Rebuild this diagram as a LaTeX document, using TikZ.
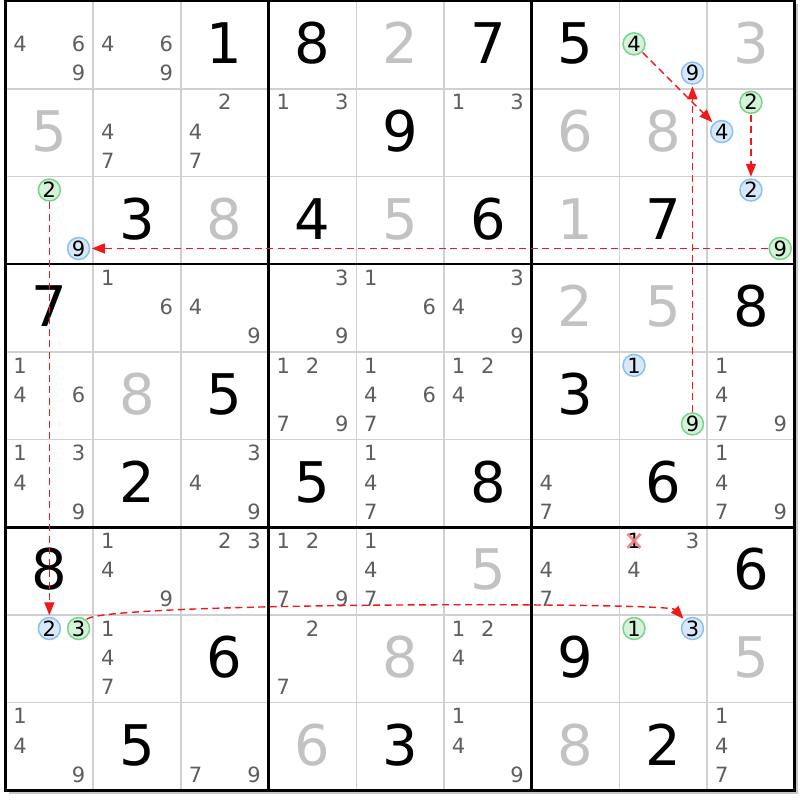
\documentclass[tikz,border=0pt]{standalone}
\usepackage{fontspec}
\setmainfont{DejaVu Sans}
\usetikzlibrary{arrows.meta}
\definecolor{thinline}{HTML}{D0D0D0}
\definecolor{solved}{HTML}{C2C2C2}
\definecolor{candc}{HTML}{5E5E5E}
\definecolor{gfill}{HTML}{D6F2D8}
\definecolor{gdraw}{HTML}{78D48A}
\definecolor{bfill}{HTML}{D8E8F8}
\definecolor{bdraw}{HTML}{88C2F2}
\definecolor{arrred}{HTML}{F01818}
\definecolor{xpink}{HTML}{F27A7A}
\def\gx{5.5}
\def\gy{1}
\def\cs{87.7}
\newcommand\candpos[3]{%
  \pgfmathsetmacro\px{\gx+(#2-1)*\cs+(mod(#3-1,3)+0.5)*\cs/3}%
  \pgfmathsetmacro\py{\gy+(#1-1)*\cs+(floor((#3-1)/3)+0.5)*\cs/3-1}%
}
\tikzset{
  bigdig/.style={font=\fontsize{56}{60}\selectfont, inner sep=0pt, text height=40.8pt, text depth=0pt},
  cand/.style={font=\fontsize{21}{24}\selectfont, text=candc, inner sep=0pt, text height=15.3pt, text depth=0pt},
  circd/.style={circle, line width=1.5pt, minimum size=22pt, inner sep=0pt, font=\fontsize{21}{24}\selectfont, text=black, text height=15.3pt, text depth=0pt},
  gcirc/.style={circd, draw=gdraw, fill=gfill},
  bcirc/.style={circd, draw=bdraw, fill=bfill},
  arr/.style={draw=arrred, line width=1.4pt, dash pattern=on 7pt off 4.5pt, -{Triangle[length=13pt,width=10pt]}, shorten >=1.5pt, shorten <=0.5pt},
}
\begin{document}
\begin{tikzpicture}[x=1pt,y=-1pt]
\useasboundingbox (0,0) rectangle (800,800);
\fill[white] (0,0) rectangle (800,800);
% shadow
\fill[black!22] ({\gx+3},{\gy+9*\cs}) rectangle ({\gx+9*\cs+3},{\gy+9*\cs+3.5});
\fill[black!22] ({\gx+9*\cs},{\gy+3}) rectangle ({\gx+9*\cs+3.5},{\gy+9*\cs+3.5});
% thin lines
\foreach \i in {1,2,4,5,7,8} {
  \draw[thinline, line width=1.6pt] ({\gx+\i*\cs},\gy) -- ({\gx+\i*\cs},{\gy+9*\cs});
  \draw[thinline, line width=1.6pt] (\gx,{\gy+\i*\cs}) -- ({\gx+9*\cs},{\gy+\i*\cs});
}
\foreach \i in {3,6} {
  \draw[black, line width=2.6pt] ({\gx+\i*\cs},\gy) -- ({\gx+\i*\cs},{\gy+9*\cs});
  \draw[black, line width=2.6pt] (\gx,{\gy+\i*\cs}) -- ({\gx+9*\cs},{\gy+\i*\cs});
}
\draw[black, line width=3pt] (\gx,\gy) rectangle ({\gx+9*\cs},{\gy+9*\cs});
% given digits
\foreach \r/\c/\d in {1/3/1,1/4/8,1/6/7,1/7/5,2/5/9,3/2/3,3/4/4,3/6/6,3/8/7,4/1/7,4/9/8,5/3/5,5/7/3,6/2/2,6/4/5,6/6/8,6/8/6,7/1/8,7/9/6,8/3/6,8/7/9,9/2/5,9/5/3,9/8/2} {
  \node[bigdig, text=black] (d\r\c) at ({\gx+(\c-0.5)*\cs},{\gy+(\r-0.5)*\cs-1.5}) {\d};
}
% solved digits
\foreach \r/\c/\d in {1/5/2,1/9/3,2/1/5,2/7/6,2/8/8,3/3/8,3/5/5,3/7/1,4/7/2,4/8/5,5/2/8,7/6/5,8/5/8,8/9/5,9/4/6,9/7/8} {
  \node[bigdig, text=solved] (d\r\c) at ({\gx+(\c-0.5)*\cs},{\gy+(\r-0.5)*\cs-1.5}) {\d};
}
% candidates
\foreach \r/\c/\ds in {1/1/{4,6,9},1/2/{4,6,9},2/2/{4,7},2/3/{2,4,7},2/4/{1,3},2/6/{1,3},
  4/2/{1,6},4/3/{4,9},4/4/{3,9},4/5/{1,6},4/6/{3,4,9},
  5/1/{1,4,6},5/4/{1,2,7,9},5/5/{1,4,6,7},5/6/{1,2,4},5/9/{1,4,7,9},
  6/1/{1,3,4,9},6/3/{3,4,9},6/5/{1,4,7},6/7/{4,7},6/9/{1,4,7,9},
  7/2/{1,4,9},7/3/{2,3},7/4/{1,2,7,9},7/5/{1,4,7},7/7/{4,7},7/8/{3,4},
  8/2/{1,4,7},8/4/{2,7},8/6/{1,2,4},
  9/1/{1,4,9},9/3/{7,9},9/6/{1,4,9},9/9/{1,4,7}} {
  \foreach \d in \ds {
    \candpos{\r}{\c}{\d}
    \node[cand] (c\r\c\d) at (\px,\py) {\d};
  }
}
% eliminated candidate
\candpos{7}{8}{1}
\node[cand, text=black] (c781) at (\px,\py) {1};
\draw[xpink, opacity=0.85, line width=2.8pt] ([shift={(-6.5,-7)}]c781.center) -- ([shift={(6.5,7)}]c781.center);
\draw[xpink, opacity=0.85, line width=2.8pt] ([shift={(-6.5,7)}]c781.center) -- ([shift={(6.5,-7)}]c781.center);
% circled candidates
\foreach \r/\c/\d in {1/8/4,2/9/2,3/1/2,3/9/9,5/8/9,8/1/3,8/8/1} {
  \candpos{\r}{\c}{\d}
  \node[gcirc] (c\r\c\d) at (\px,\py) {\d};
}
\foreach \r/\c/\d in {1/8/9,2/9/4,3/1/9,3/9/2,5/8/1,8/1/2,8/8/3} {
  \candpos{\r}{\c}{\d}
  \node[bcirc] (c\r\c\d) at (\px,\py) {\d};
}
% links
\draw[arr] (c184) -- (c294);
\draw[arr] (c292) -- (c392);
\draw[arr] (c399) -- (c319);
\draw[arr] (c312) -- (c812);
\draw[arr] (c813) .. controls (102,602) and (668,602) .. (c883);
\draw[arr] (c589) -- (c189);
\end{tikzpicture}
\end{document}
